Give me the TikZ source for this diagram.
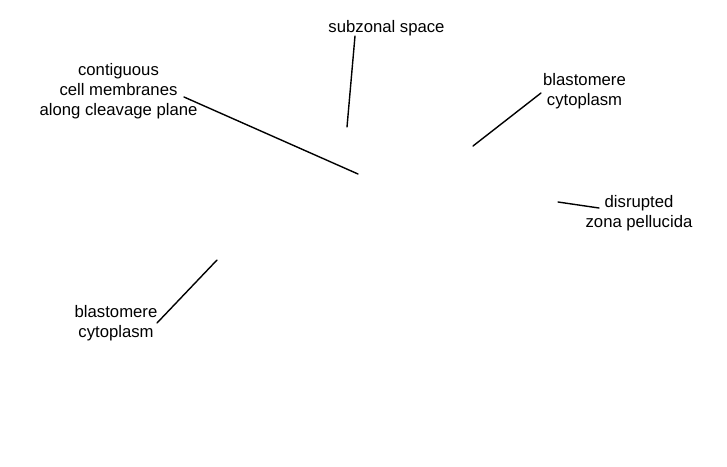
\documentclass[tikz,border=0pt]{standalone}
\usepackage{fontspec}
\setmainfont{Liberation Sans}
\begin{document}
\begin{tikzpicture}[x=1pt,y=-1pt,
  lbl/.style={align=center,inner sep=0pt,font=\fontsize{16.7}{20}\selectfont},
  leader/.style={draw=black,line width=1.4pt,line cap=round}]
\useasboundingbox (0,0) rectangle (727,466);
% labels
\node[lbl] (subz) at (386.5,28.5) {subzonal space};
\node[lbl] (contig) at (118.5,91.5) {contiguous\\cell membranes\\along cleavage plane};
\node[lbl] (blastR) at (584.5,91.5) {blastomere\\cytoplasm};
\node[lbl] (disr) at (639,213) {disrupted\\zona pellucida};
\node[lbl] (blastL) at (116,323.5) {blastomere\\cytoplasm};
% leader end points
\coordinate (subzA) at (355,36);
\coordinate (subzB) at (347,127);
\coordinate (contigA) at (184,97);
\coordinate (contigB) at (358,174);
\coordinate (blastRA) at (541,93);
\coordinate (blastRB) at (473,146);
\coordinate (disrA) at (599,208);
\coordinate (disrB) at (558,202);
\coordinate (blastLA) at (157,323);
\coordinate (blastLB) at (217,260);
% leaders
\draw[leader] (subzA) -- (subzB);
\draw[leader] (contigA) -- (contigB);
\draw[leader] (blastRA) -- (blastRB);
\draw[leader] (disrA) -- (disrB);
\draw[leader] (blastLA) -- (blastLB);
\end{tikzpicture}
\end{document}
